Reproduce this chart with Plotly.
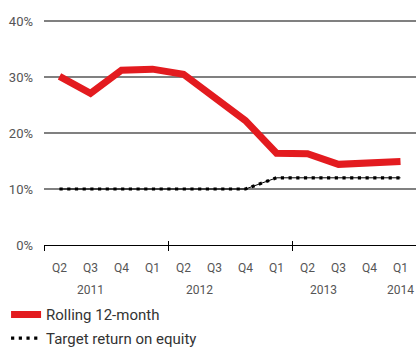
import plotly.graph_objects as go

quarters = ["Q2", "Q3", "Q4", "Q1", "Q2", "Q3", "Q4", "Q1", "Q2", "Q3", "Q4", "Q1"]
years = [2011, 2011, 2011, 2012, 2012, 2012, 2012, 2013, 2013, 2013, 2013, 2014]
rolling = [30.1, 27.1, 31.2, 31.4, 30.5, 26.2, 22.2, 16.4, 16.3, 14.4, 14.7, 14.9]
target = [10, 10, 10, 10, 10, 10, 10, 12, 12, 12, 12, 12]
y_ticks = [0, 10, 20, 30, 40]
y_labels = [f"{v}%" for v in y_ticks]

idx = list(range(len(quarters)))
sep = [i - 0.5 for i, q in enumerate(quarters) if q == "Q2"]
year_list = sorted(set(years))
year_pos = []
for yr in year_list:
    ii = [i for i, v in enumerate(years) if v == yr]
    year_pos.append((min(ii) + max(ii)) / 2)

RED = "#e31b1f"
FONT = "Roboto"
TXT = "#555555"

fig = go.Figure()
fig.add_trace(go.Scatter(x=idx, y=rolling, mode="lines", name="Rolling 12-month",
                         legendgroup="a", line=dict(color=RED, width=7)))
fig.add_trace(go.Scatter(x=idx, y=target, mode="lines", showlegend=False, legendgroup="b",
                         line=dict(color="black", width=1), hoverinfo="skip"))
fig.add_trace(go.Scatter(x=idx, y=target, mode="lines", name="Target return on equity",
                         legendgroup="b",
                         line=dict(color="black", width=3.2, dash="3.2px,4.5px")))

xr = [-0.5, len(quarters) - 0.5]
fig.update_layout(
    width=416, height=348,
    margin=dict(l=44, r=0, t=19, b=103, autoexpand=False),
    paper_bgcolor="white", plot_bgcolor="white",
    font=dict(family=FONT, size=12, color=TXT),
    xaxis=dict(range=xr, tickvals=idx, ticktext=quarters, ticks="", showgrid=False,
               zeroline=False, showline=True, linecolor="black", linewidth=1.3,
               ticklabelstandoff=11, tickfont=dict(size=12, color=TXT)),
    xaxis2=dict(range=xr, overlaying="x", anchor="y", side="bottom", tickvals=sep,
                ticks="outside", ticklen=5, tickwidth=1.3, tickcolor="black",
                showticklabels=False, showgrid=False, zeroline=False, showline=False),
    xaxis3=dict(range=xr, overlaying="x", anchor="y", side="bottom", tickvals=sep,
                ticks="inside", ticklen=4, tickwidth=1.3, tickcolor="black",
                showticklabels=False, showgrid=False, zeroline=False, showline=False),
    yaxis=dict(range=[0, 40.36], tickvals=y_ticks, ticktext=y_labels, showgrid=True,
               gridcolor="#808080", gridwidth=1.5, zeroline=False, showline=False,
               ticks="", ticklabelstandoff=10, tickfont=dict(size=13, color=TXT)),
    legend=dict(x=-0.102, y=-0.236, xanchor="left", yanchor="top", orientation="v",
                font=dict(family=FONT, size=15, color="#333333"),
                bgcolor="rgba(0,0,0,0)", traceorder="grouped", tracegroupgap=1),
    showlegend=True,
)
fig.add_trace(go.Scatter(x=[None], y=[None], xaxis="x2", showlegend=False, hoverinfo="skip"))
fig.add_trace(go.Scatter(x=[None], y=[None], xaxis="x3", showlegend=False, hoverinfo="skip"))

for yr, p in zip(year_list, year_pos):
    fig.add_annotation(x=p, y=-0.198, xref="x", yref="paper", text=str(yr), showarrow=False,
                       yanchor="middle", xanchor="center", font=dict(size=12, color=TXT))

fig.write_html("out.html")
